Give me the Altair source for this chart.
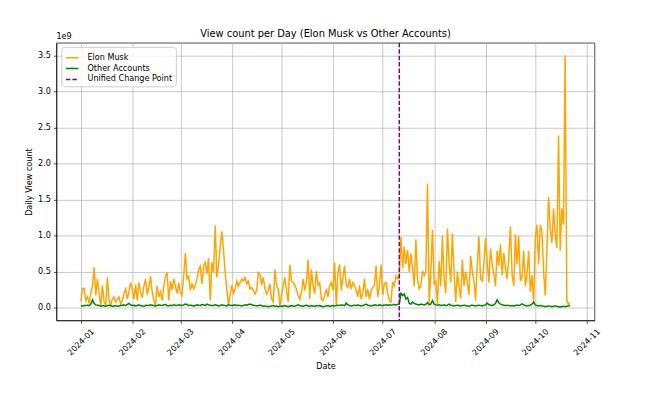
import altair as alt
import pandas as pd

# ---- Elon Musk daily views (in units of 1e9), by month ----
elon_jan = [0.09,0.26,0.27,0.10,0.15,0.06,0.20,0.30,0.56,0.17,0.40,0.20,0.03,0.31,0.08,0.04,0.42,0.10,0.04,0.12,0.15,0.08,0.12,0.15,0.05,0.10,0.20,0.26,0.12,0.22,0.35]
elon_feb = [0.25,0.12,0.32,0.10,0.35,0.22,0.14,0.30,0.40,0.18,0.28,0.44,0.22,0.10,0.03,0.30,0.15,0.22,0.10,0.30,0.44,0.49,0.10,0.37,0.25,0.40,0.30,0.20,0.35]
elon_mar = [0.20,0.17,0.45,0.76,0.40,0.44,0.24,0.33,0.26,0.31,0.40,0.53,0.58,0.33,0.58,0.63,0.47,0.69,0.10,0.63,0.49,1.14,0.42,0.58,0.85,1.06,0.80,0.49,0.26,0.03,0.17]
elon_apr = [0.31,0.20,0.26,0.37,0.30,0.35,0.40,0.37,0.42,0.33,0.37,0.26,0.28,0.24,0.19,0.24,0.49,0.47,0.31,0.42,0.26,0.19,0.24,0.33,0.12,0.08,0.53,0.31,0.26,0.03]
elon_may = [0.17,0.31,0.42,0.24,0.08,0.60,0.37,0.35,0.31,0.26,0.17,0.12,0.21,0.40,0.24,0.35,0.67,0.12,0.53,0.31,0.19,0.51,0.31,0.35,0.12,0.10,0.17,0.26,0.15,0.31,0.35]
elon_jun = [0.24,0.63,0.03,0.49,0.60,0.24,0.42,0.58,0.31,0.28,0.40,0.26,0.35,0.31,0.24,0.15,0.31,0.12,0.21,0.40,0.15,0.26,0.12,0.24,0.28,0.31,0.58,0.15,0.30,0.60]
elon_jul = [0.18,0.33,0.35,0.20,0.10,0.08,0.36,0.30,0.44,0.40,0.45,0.98,0.55,0.85,0.60,0.80,0.50,0.75,0.55,0.30,0.95,0.40,0.26,0.30,0.51,0.45,0.50,1.72,0.05,0.50,1.08]
elon_aug = [0.33,0.37,0.05,0.65,0.30,1.00,0.40,0.20,1.10,0.63,0.35,1.03,0.50,0.08,0.50,0.30,0.13,0.67,0.30,0.50,0.35,0.18,0.72,0.50,0.37,0.10,0.60,0.99,0.40,0.37,0.60]
elon_sep = [0.97,0.64,0.35,0.82,0.60,0.47,0.30,0.79,0.58,0.88,0.45,0.76,0.55,0.40,0.70,1.13,0.46,0.30,1.02,0.60,0.99,0.37,0.42,0.79,0.30,0.47,0.79,0.22,0.45,0.08]
elon_oct = [0.97,1.15,0.60,1.15,1.06,0.50,0.17,0.80,1.54,1.10,0.90,1.38,1.00,0.83,2.39,0.79,1.38,1.15,3.50,0.10,0.05,0.07]

# ---- Other accounts daily views (in units of 1e9), by month ----
other_jan = [0.02,0.025,0.03,0.03,0.035,0.03,0.05,0.11,0.06,0.04,0.035,0.03,0.02,0.03,0.025,0.02,0.03,0.035,0.03,0.02,0.025,0.03,0.02,0.025,0.03,0.035,0.04,0.03,0.045,0.06,0.04]
other_feb = [0.03,0.035,0.025,0.03,0.04,0.03,0.025,0.02,0.03,0.035,0.03,0.04,0.035,0.03,0.025,0.03,0.04,0.035,0.03,0.04,0.045,0.03,0.025,0.035,0.03,0.04,0.035,0.03,0.04]
other_mar = [0.035,0.03,0.04,0.05,0.045,0.03,0.035,0.03,0.025,0.03,0.04,0.035,0.03,0.045,0.04,0.03,0.05,0.04,0.035,0.03,0.03,0.04,0.035,0.025,0.03,0.04,0.035,0.03,0.025,0.04,0.035]
other_apr = [0.03,0.035,0.04,0.03,0.035,0.03,0.025,0.03,0.04,0.035,0.045,0.05,0.04,0.035,0.03,0.025,0.03,0.035,0.03,0.02,0.025,0.02,0.015,0.02,0.025,0.03,0.02,0.025,0.015,0.02]
other_may = [0.02,0.025,0.03,0.02,0.015,0.02,0.03,0.025,0.02,0.03,0.04,0.03,0.025,0.02,0.03,0.035,0.025,0.02,0.03,0.025,0.02,0.03,0.025,0.03,0.02,0.015,0.02,0.025,0.03,0.02,0.025]
other_jun = [0.03,0.025,0.03,0.035,0.03,0.04,0.035,0.03,0.065,0.04,0.03,0.025,0.03,0.035,0.03,0.04,0.03,0.025,0.03,0.04,0.05,0.035,0.03,0.025,0.03,0.04,0.035,0.03,0.04,0.035]
other_jul = [0.03,0.035,0.04,0.035,0.04,0.035,0.04,0.045,0.04,0.045,0.05,0.2,0.17,0.19,0.12,0.14,0.06,0.05,0.08,0.06,0.05,0.045,0.04,0.05,0.045,0.04,0.05,0.07,0.04,0.05,0.1]
other_aug = [0.05,0.04,0.035,0.04,0.03,0.035,0.04,0.03,0.035,0.05,0.035,0.03,0.025,0.03,0.035,0.03,0.025,0.03,0.035,0.03,0.025,0.02,0.03,0.035,0.03,0.025,0.03,0.035,0.03,0.025,0.035]
other_sep = [0.04,0.065,0.04,0.035,0.03,0.04,0.06,0.11,0.07,0.05,0.04,0.035,0.03,0.035,0.03,0.025,0.03,0.025,0.03,0.035,0.03,0.04,0.055,0.04,0.03,0.025,0.03,0.035,0.05,0.08]
other_oct = [0.04,0.03,0.025,0.03,0.025,0.02,0.015,0.02,0.025,0.02,0.015,0.02,0.025,0.02,0.015,0.01,0.015,0.02,0.015,0.02,0.025,0.03]

series_names = ["Elon Musk", "Other Accounts", "Unified Change Point"]
series_colors = ["#FFA500", "#008000", "#800080"]
series_dashes = [[1, 0], [1, 0], [4.5, 2]]
change_point = "2024-07-11T00:00:00"
y_ticks = [0.0, 0.5, 1.0, 1.5, 2.0, 2.5, 3.0, 3.5]
title_text = "View count per Day (Elon Musk vs Other Accounts)"

elon = elon_jan + elon_feb + elon_mar + elon_apr + elon_may + elon_jun + elon_jul + elon_aug + elon_sep + elon_oct
other = other_jan + other_feb + other_mar + other_apr + other_may + other_jun + other_jul + other_aug + other_sep + other_oct
n = len(elon)
dates = list(pd.date_range("2024-01-01", periods=n, freq="D").strftime("%Y-%m-%dT00:00:00"))

df = pd.DataFrame({
    "date": dates + dates,
    "views": elon + other,
    "series": ["Elon Musk"] * n + ["Other Accounts"] * n,
})
cp = pd.DataFrame({"date": [change_point], "series": ["Unified Change Point"]})
offs = pd.DataFrame({"t": ["1e9"]})

FONT = "DejaVu Sans"

legend = alt.Legend(
    title=None, orient="none", legendX=5, legendY=4,
    symbolType="stroke", symbolSize=160, symbolStrokeWidth=1.5,
    labelFontSize=8.2, labelFont=FONT, labelColor="black", labelOffset=8,
    rowPadding=0, padding=3.5, strokeColor="#cccccc", fillColor="rgba(255,255,255,0.8)",
    cornerRadius=3,
)
color = alt.Color("series:N", scale=alt.Scale(domain=series_names, range=series_colors), legend=legend)
dash = alt.StrokeDash("series:N", scale=alt.Scale(domain=series_names, range=series_dashes), legend=legend)

x = alt.X(
    "date:T",
    title="Date",
    scale=alt.Scale(domain=[alt.DateTime(year=2023, month=12, date=17, hours=6),
                            alt.DateTime(year=2024, month=11, date=5, hours=18)]),
    axis=alt.Axis(
        values=[alt.DateTime(year=2024, month=m, date=1) for m in range(1, 12)],
        format="%Y-%m", labelAngle=315, labelAlign="center", labelBaseline="middle",
        labelPadding=19, titlePadding=6,
    ),
)
y = alt.Y(
    "views:Q",
    title="Daily View count",
    scale=alt.Scale(domain=[-0.175, 3.675], nice=False, zero=False),
    axis=alt.Axis(values=y_ticks, format=".1f", labelPadding=3, titlePadding=4),
)

lines = alt.Chart(df).mark_line(strokeWidth=1.5).encode(x=x, y=y, color=color, strokeDash=dash)
rule = alt.Chart(cp).mark_rule(strokeWidth=1.5).encode(x="date:T", color=color, strokeDash=dash)
offset_text = alt.Chart(offs).mark_text(align="left", baseline="alphabetic", fontSize=8.2, font=FONT, color="black").encode(
    text="t:N", x=alt.value(0), y=alt.value(-4)
)

chart = alt.layer(lines, rule, offset_text).properties(
    width=545, height=281,
    title=alt.Title(title_text, fontSize=10, font=FONT, fontWeight="normal", color="black",
                    anchor="middle", frame="group", offset=5, dy=12),
    autosize=alt.AutoSizeParams(type="none"),
    padding={"left": 49, "top": 33, "right": 48, "bottom": 50},
).configure_view(
    stroke="black", strokeWidth=0.7
).configure_axis(
    labelFont=FONT, titleFont=FONT, labelFontSize=8.2, titleFontSize=8.2, titleFontWeight="normal",
    labelColor="black", titleColor="black", tickColor="black", domainColor="black",
    tickSize=3, tickWidth=0.7, domainWidth=0.7, gridColor="#b0b0b0", gridWidth=0.7,
)

chart.save("out.html", embed_options={"renderer": "svg", "actions": False})
